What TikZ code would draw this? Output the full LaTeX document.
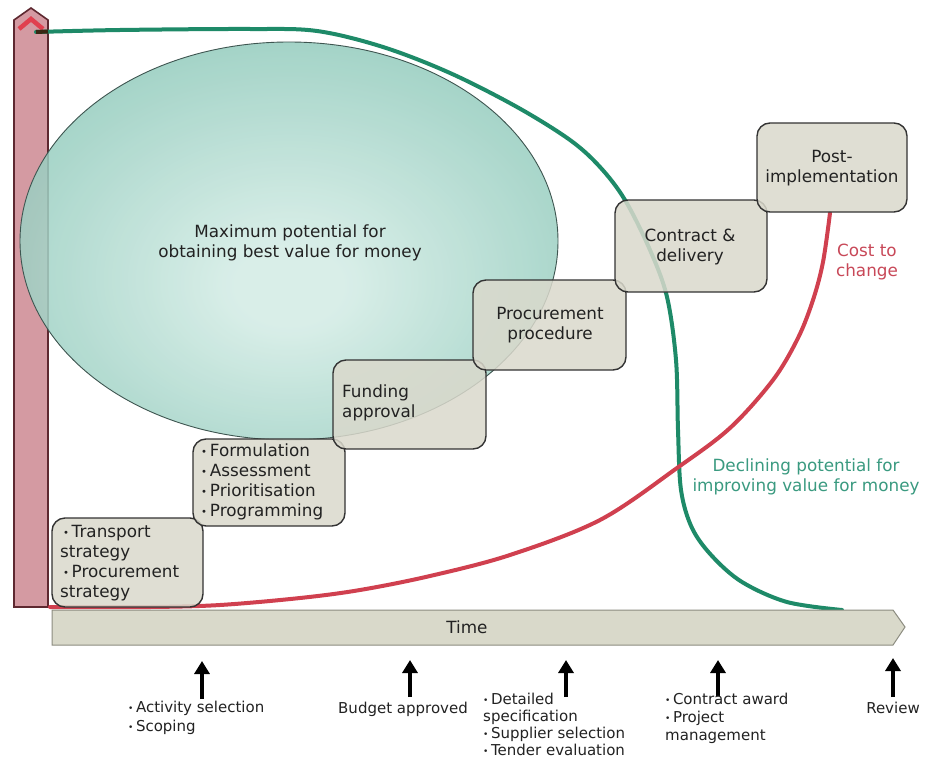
\documentclass[tikz,border=0pt]{standalone}
\usepackage{fontspec}
\setmainfont{DejaVu Sans}
\usetikzlibrary{arrows.meta}
\definecolor{barfill}{HTML}{D49AA2}
\definecolor{barline}{HTML}{5E2830}
\definecolor{chev}{HTML}{E0404F}
\definecolor{boxfill}{HTML}{DAD9CC}
\definecolor{boxline}{HTML}{333333}
\definecolor{timefill}{HTML}{D9D9CA}
\definecolor{timeline}{HTML}{8C8C80}
\definecolor{ellin}{HTML}{D3ECE5}
\definecolor{ellmid}{HTML}{96CDBF}
\definecolor{ellout}{HTML}{58A692}
\definecolor{ellline}{HTML}{3E5550}
\definecolor{greenc}{HTML}{1E8A68}
\definecolor{redc}{HTML}{D0404F}
\definecolor{greentext}{HTML}{3A9A80}
\definecolor{redtext}{HTML}{C84858}
\definecolor{txt}{HTML}{222222}
\pgfdeclareradialshading{ellshade}{\pgfpoint{0bp}{-6bp}}{color(0bp)=(ellin); color(5bp)=(ellin); color(28bp)=(ellmid); color(50bp)=(ellout); color(75bp)=(ellout)}
\newcommand{\bul}{\raisebox{0.15ex}{\scalebox{0.6}{•}}\,}
\begin{document}
\begin{tikzpicture}[x=1pt,y=-1pt,
  stagebox/.style={draw=boxline, fill=boxfill, fill opacity=0.85, line width=1.4pt, rounded corners=13pt, inner sep=0pt},
  lbl/.style={font=\fontsize{16.8}{20}\selectfont, text=txt, inner sep=0pt},
  small/.style={font=\fontsize{15}{18}\selectfont, text=txt, inner sep=0pt},
  milestone/.style={line width=3.8pt, -{Triangle[width=15pt,length=13pt]}},
  curve/.style={line width=4pt, line cap=round}]
\useasboundingbox[fill=white] (0,0) rectangle (925,760);

% value axis bar
\draw[fill=barfill, draw=barline, line width=1.6pt] (14,607) -- (14,20) -- (31,8) -- (48,20) -- (48,607) -- cycle;
\draw[chev, line width=4.5pt] (19,29) -- (31,19) -- (43,29);

% ellipse
\shade[shading=ellshade, opacity=0.85] (289,241) ellipse [x radius=269, y radius=199];
\draw[ellline, line width=0.9pt] (289,241) ellipse [x radius=269, y radius=199];

% green curve
\coordinate (gstart) at (36,32);
\coordinate (gend) at (842,610);
\draw[curve, greenc] plot[smooth, tension=0.55] coordinates {(36,32) (120,30) (250,29) (317,31) (383,47) (450,73) (517,107) (570,140) (600,167) (625,200) (650,250) (667,297) (676,360) (678,430) (681,490) (692,528) (712,556) (742,582) (787,602) (842,610)};
\draw[line width=4pt, color=black!70!brown] (36,32) -- (48,31.5);

% red curve
\draw[curve, redc] plot[smooth, tension=0.55] coordinates {(50,607) (150,607) (220,605) (300,598) (360,590) (430,576) (510,555) (600,520) (677,468) (730,428) (773,380) (798,338) (813,300) (823,262) (830,213)};

% stage boxes
\node[stagebox, minimum width=151pt, minimum height=89pt] (b1) at (127.5,562.5) {};
\node[stagebox, minimum width=152pt, minimum height=87pt] (b2) at (269,482.5) {};
\node[stagebox, minimum width=153pt, minimum height=89pt] (b3) at (409.5,404.5) {};
\node[stagebox, minimum width=153pt, minimum height=90pt] (b4) at (549.5,325) {};
\node[stagebox, minimum width=152pt, minimum height=92pt] (b5) at (691,246) {};
\node[stagebox, minimum width=150pt, minimum height=89pt] (b6) at (832,167.5) {};

% time bar
\draw[fill=timefill, draw=timeline, line width=1pt] (52,610) -- (893,610) -- (905,627) -- (893,645) -- (52,645) -- cycle;
\node[lbl] (time) at (467,627) {Time};

% texts
\node[lbl, align=center] (maxpot) at (290,243) {Maximum potential for\\obtaining best value for money};
\node[lbl, align=left, anchor=west] (t1) at (60,563) {\,\bul Transport\\strategy\\\,\bul Procurement\\strategy};
\node[lbl, align=left, anchor=west] (t2) at (201,482) {\bul Formulation\\\bul Assessment\\\bul Prioritisation\\\bul Programming};
\node[lbl, align=left, anchor=west] (t3) at (342,403) {Funding\\approval};
\node[lbl, align=center] (t4) at (550,325) {Procurement\\procedure};
\node[lbl, align=center] (t5) at (690,247) {Contract \&\\delivery};
\node[lbl, align=center] (t6) at (832,168) {Post-\\implementation};
\node[lbl, align=center, text=redtext] (cost) at (867,262) {Cost to\\change};
\node[lbl, align=center, text=greentext] (decl) at (806,477) {Declining potential for\\improving value for money};

% milestones
\coordinate (m1b) at (202,699); \coordinate (m1t) at (202,661);
\coordinate (m2b) at (410,697); \coordinate (m2t) at (410,660);
\coordinate (m3b) at (566,697); \coordinate (m3t) at (566,660);
\coordinate (m4b) at (718,696); \coordinate (m4t) at (718,660);
\coordinate (m5b) at (893,697); \coordinate (m5t) at (893,658);
\draw[milestone] (m1b) -- (m1t);
\draw[milestone] (m2b) -- (m2t);
\draw[milestone] (m3b) -- (m3t);
\draw[milestone] (m4b) -- (m4t);
\draw[milestone] (m5b) -- (m5t);

\node[small, align=left, anchor=west, font=\fontsize{15}{19}\selectfont] (l1) at (128,718) {\bul Activity selection\\\bul Scoping};
\node[small] (l2) at (403,709) {Budget approved};
\node[small, align=left, anchor=north west, font=\fontsize{15}{17}\selectfont] (l3) at (483,693) {\bul Detailed\\specification\\\bul Supplier selection\\\bul Tender evaluation};
\node[small, align=left, anchor=north west] (l4) at (665,693) {\bul Contract award\\\bul Project\\management};
\node[small] (l5) at (893,708) {Review};
\end{tikzpicture}
\end{document}
